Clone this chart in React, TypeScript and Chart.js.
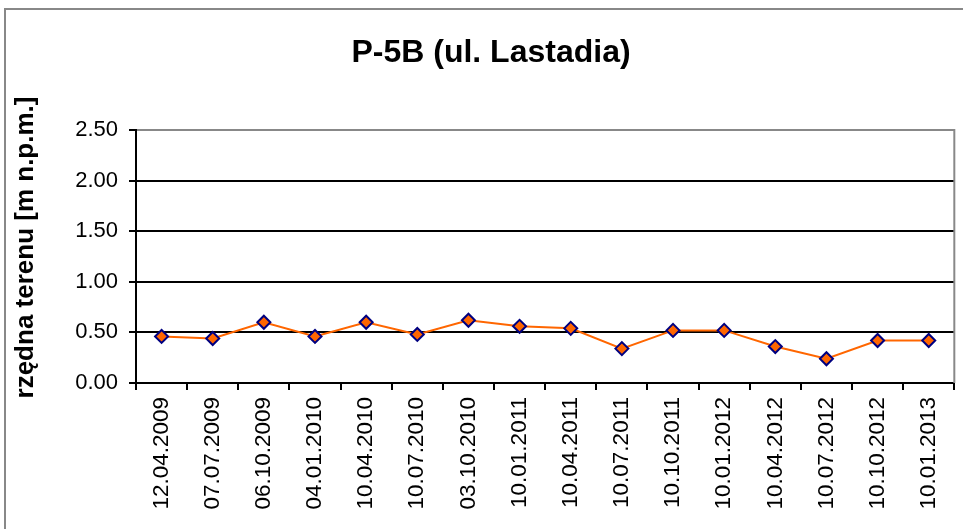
import React, { useEffect, useRef } from "react";
import { Chart, registerables } from "chart.js";

Chart.register(...registerables);

const chartTitle = "P-5B (ul. Lastadia)";
const yAxisTitle = "rzędna terenu [m n.p.m.]";
const categories = [
  "12.04.2009", "07.07.2009", "06.10.2009", "04.01.2010",
  "10.04.2010", "10.07.2010", "03.10.2010", "10.01.2011",
  "10.04.2011", "10.07.2011", "10.10.2011", "10.01.2012",
  "10.04.2012", "10.07.2012", "10.10.2012", "10.01.2013",
];
const values = [
  0.46, 0.44, 0.60, 0.46, 0.60, 0.48, 0.62, 0.56,
  0.54, 0.34, 0.52, 0.52, 0.36, 0.24, 0.42, 0.42,
];
const yMin = 0;
const yMax = 2.5;
const yStep = 0.5;

const FONT = "'Liberation Sans', Arial, sans-serif";

const framePlugin = {
  id: "frame",
  beforeDraw(chart: any) {
    const ctx = chart.ctx;
    ctx.save();
    ctx.fillStyle = "#ffffff";
    ctx.fillRect(0, 0, chart.width, chart.height);
    ctx.strokeStyle = "#888888";
    ctx.lineWidth = 2;
    ctx.strokeRect(5, 9, chart.width + 40, chart.height + 40);
    ctx.restore();
  },
  beforeDatasetsDraw(chart: any) {
    const { ctx, chartArea } = chart;
    ctx.save();
    ctx.strokeStyle = "#888888";
    ctx.lineWidth = 2;
    ctx.beginPath();
    ctx.moveTo(chartArea.right, chartArea.top - 1);
    ctx.lineTo(chartArea.right, chartArea.bottom);
    ctx.stroke();
    ctx.restore();
  },
  afterDraw(chart: any) {
    const { ctx, chartArea } = chart;
    ctx.save();
    ctx.translate(26, (chartArea.top + chartArea.bottom) / 2 - 9);
    ctx.rotate(-Math.PI / 2);
    ctx.font = `bold 26px ${FONT}`;
    ctx.fillStyle = "#000";
    ctx.textAlign = "center";
    ctx.textBaseline = "middle";
    ctx.fillText(yAxisTitle, 0, 0);
    ctx.restore();
  },
};

export default function App() {
  const ref = useRef<HTMLCanvasElement | null>(null);

  useEffect(() => {
    if (!ref.current) return;
    const chart = new Chart(ref.current, {
      type: "line",
      data: {
        labels: categories,
        datasets: [
          {
            data: values,
            borderColor: "#FF6600",
            borderWidth: 2,
            pointStyle: "rectRot",
            pointRadius: 6.5,
            pointBorderWidth: 2,
            pointBackgroundColor: "#FF6600",
            pointBorderColor: "#000080",
            tension: 0,
            fill: false,
          },
        ],
      },
      options: {
        responsive: false,
        animation: false,
        layout: { padding: { left: 27, right: 8, top: 0, bottom: 0 } },
        plugins: {
          legend: { display: false },
          tooltip: { enabled: false },
          title: {
            display: true,
            text: chartTitle,
            color: "#000",
            font: { family: FONT, size: 32, weight: "bold" },
            padding: { top: 34, bottom: 57.6 },
          },
        },
        scales: {
          x: {
            offset: true,
            afterFit: (s: any) => { s.height = 146; },
            grid: {
              offset: true,
              drawOnChartArea: false,
              color: "#000",
              lineWidth: 2,
              tickLength: 7,
            },
            border: { display: true, color: "#000", width: 2 },
            ticks: {
              color: "#000",
              font: { family: FONT, size: 22.5 },
              minRotation: 90,
              maxRotation: 90,
              autoSkip: false,
              padding: 7,
            },
          },
          y: {
            min: yMin,
            max: yMax,
            afterFit: (s: any) => { s.width = 109; },
            grid: {
              color: (c: any) => (c.tick && c.tick.value === yMax ? "#888888" : "#000"),
              tickColor: "#000",
              lineWidth: 2,
              tickLength: 7,
            },
            border: { display: true, color: "#000", width: 2 },
            ticks: {
              stepSize: yStep,
              color: "#000",
              font: { family: FONT, size: 22 },
              padding: 11,
              callback: (v: any) => Number(v).toFixed(2),
            },
            title: { display: false },
          },
        },
      },
      plugins: [framePlugin],
    });
    return () => chart.destroy();
  }, []);

  return (
    <div style={{ position: "fixed", left: 0, top: 0, width: 963, height: 529 }}>
      <canvas ref={ref} width={963} height={529} style={{ display: "block" }} />
    </div>
  );
}
